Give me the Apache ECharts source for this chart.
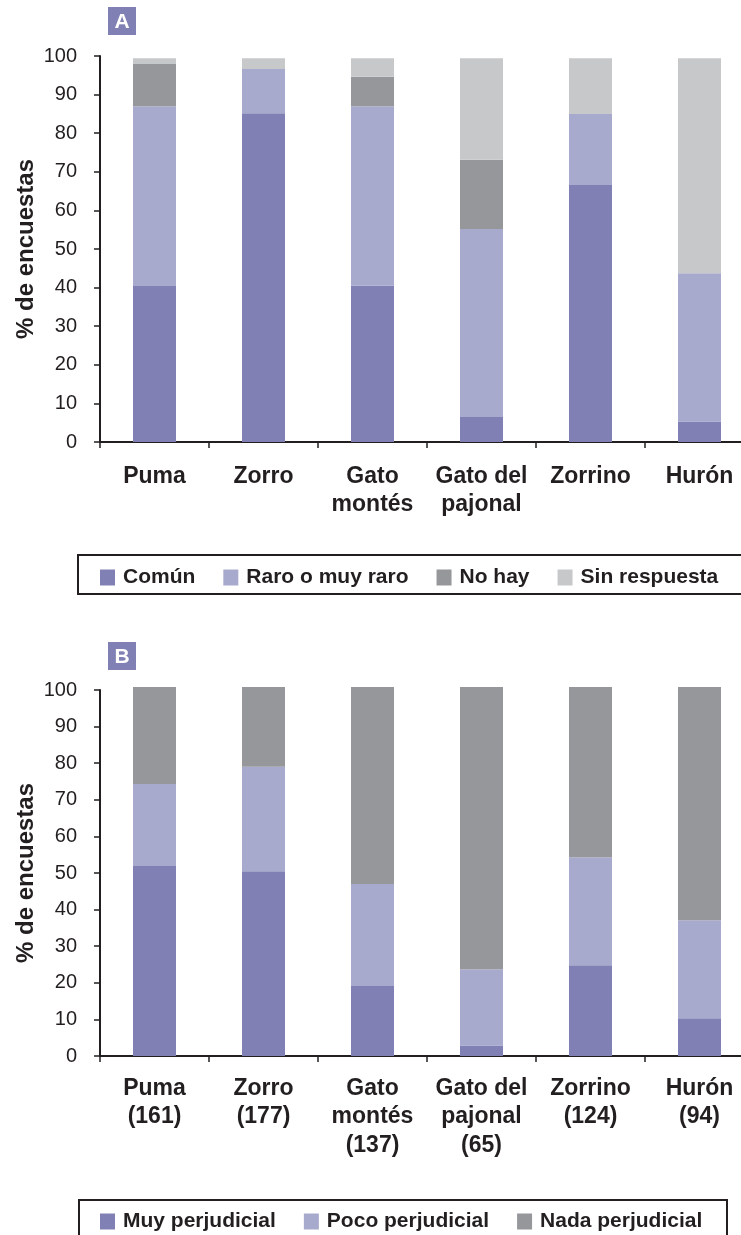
<!DOCTYPE html>
<html>
<head>
<meta charset="utf-8">
<script src="https://cdn.jsdelivr.net/npm/echarts@6/dist/echarts.min.js"></script>
<style>
html,body{margin:0;padding:0;background:#fff;}
#chart{width:741px;height:1235px;}
</style>
</head>
<body>
<div id="chart"></div>
<script>
// Panel A
const categoriesA = ['Puma', 'Zorro', 'Gato\nmontés', 'Gato del\npajonal', 'Zorrino', 'Hurón'];
const comun       = [40.4, 85.2, 40.5, 6.5, 66.6, 5.3];
const raro        = [46.6, 11.4, 46.5, 48.7, 18.4, 38.4];
const noHay       = [10.9, 0, 7.6, 17.9, 0, 0];
const sinResp     = [1.5, 2.8, 4.8, 26.3, 14.4, 55.7];

// Panel B
const categoriesB = ['Puma\n(161)', 'Zorro\n(177)', 'Gato\nmontés\n(137)', 'Gato del\npajonal\n(65)', 'Zorrino\n(124)', 'Hurón\n(94)'];
const muyPerj     = [51.9, 50.5, 19.1, 2.9, 24.8, 10.3];
const pocoPerj    = [22.4, 28.5, 27.9, 20.8, 29.5, 26.8];
const nadaPerj    = [26.5, 21.8, 53.8, 77.1, 46.5, 63.7];

const yTicks = [0, 10, 20, 30, 40, 50, 60, 70, 80, 90, 100];

const C1 = '#8080b4', C2 = '#a8aacd', C3 = '#96979b', C4 = '#c7c8ca';
const INK = '#231f20';
const FONT = '"Liberation Sans", Arial, sans-serif';

function xAxis(grid, data, margin, lh) {
  return {
    type: 'category', gridIndex: grid, data: data,
    axisLine: { lineStyle: { color: INK, width: 2 } },
    axisTick: { show: true, length: 6, alignWithLabel: false, lineStyle: { color: INK, width: 1.5 } },
    axisLabel: { interval: 0, color: INK, fontFamily: FONT, fontSize: 23, fontWeight: 'bold', lineHeight: lh, margin: margin }
  };
}
function yAxis(grid) {
  return {
    type: 'value', gridIndex: grid, min: yTicks[0], max: yTicks[yTicks.length - 1], interval: 10,
    name: '% de encuestas', nameLocation: 'middle', nameGap: 62, nameMoveOverlap: false,
    nameTextStyle: { color: INK, fontFamily: FONT, fontSize: 24, fontWeight: 'bold' },
    axisLine: { show: true, lineStyle: { color: INK, width: 2 } },
    axisTick: { show: true, length: 6, lineStyle: { color: INK, width: 1.5 } },
    axisLabel: { color: INK, fontFamily: FONT, fontSize: 20, margin: 23 },
    splitLine: { show: false }
  };
}
function bar(name, data, color, idx, stack) {
  return {
    name: name, type: 'bar', stack: stack, xAxisIndex: idx, yAxisIndex: idx,
    data: data, barWidth: 43, clip: false,
    itemStyle: { color: color }, emphasis: { disabled: true }
  };
}
const legendText = { color: INK, fontFamily: FONT, fontSize: 21, fontWeight: 'bold', lineHeight: 16, padding: [0, 0, 0, 3] };

const chart = echarts.init(document.getElementById('chart'), null, { renderer: 'canvas' });
chart.setOption({
  animation: false,
  backgroundColor: '#fff',
  grid: [
    { left: 100, top: 56, width: 654, height: 386, outerBoundsMode: 'none', containLabel: false },
    { left: 100, top: 690, width: 654, height: 366, outerBoundsMode: 'none', containLabel: false }
  ],
  xAxis: [xAxis(0, categoriesA, 21, 28), xAxis(1, categoriesB, 18, 28.5)],
  yAxis: [yAxis(0), yAxis(1)],
  legend: [
    { data: ['Común', 'Raro o muy raro', 'No hay', 'Sin respuesta'], left: 100, top: 567, padding: 0,
      icon: 'rect', itemWidth: 15, itemHeight: 16, itemGap: 28, textStyle: legendText, selectedMode: false },
    { data: ['Muy perjudicial', 'Poco perjudicial', 'Nada perjudicial'], left: 100, top: 1211, padding: 0,
      icon: 'rect', itemWidth: 15, itemHeight: 16, itemGap: 28, textStyle: legendText, selectedMode: false }
  ],
  graphic: [
    { type: 'rect', shape: { x: 78, y: 555, width: 720, height: 39 }, style: { fill: 'none', stroke: INK, lineWidth: 2 } },
    { type: 'rect', shape: { x: 79, y: 1200, width: 648, height: 60 }, style: { fill: 'none', stroke: INK, lineWidth: 2 } },
    { type: 'rect', shape: { x: 108, y: 7, width: 28, height: 28 }, style: { fill: C1 } },
    { type: 'text', x: 122, y: 22, style: { text: 'A', fill: '#fff', font: 'bold 21px ' + FONT, textAlign: 'center', textVerticalAlign: 'middle' } },
    { type: 'rect', shape: { x: 108, y: 642, width: 28, height: 28 }, style: { fill: C1 } },
    { type: 'text', x: 122, y: 657, style: { text: 'B', fill: '#fff', font: 'bold 21px ' + FONT, textAlign: 'center', textVerticalAlign: 'middle' } }
  ],
  series: [
    bar('Común', comun, C1, 0, 'a'),
    bar('Raro o muy raro', raro, C2, 0, 'a'),
    bar('No hay', noHay, C3, 0, 'a'),
    bar('Sin respuesta', sinResp, C4, 0, 'a'),
    bar('Muy perjudicial', muyPerj, C1, 1, 'b'),
    bar('Poco perjudicial', pocoPerj, C2, 1, 'b'),
    bar('Nada perjudicial', nadaPerj, C3, 1, 'b')
  ]
});
</script>
</body>
</html>
